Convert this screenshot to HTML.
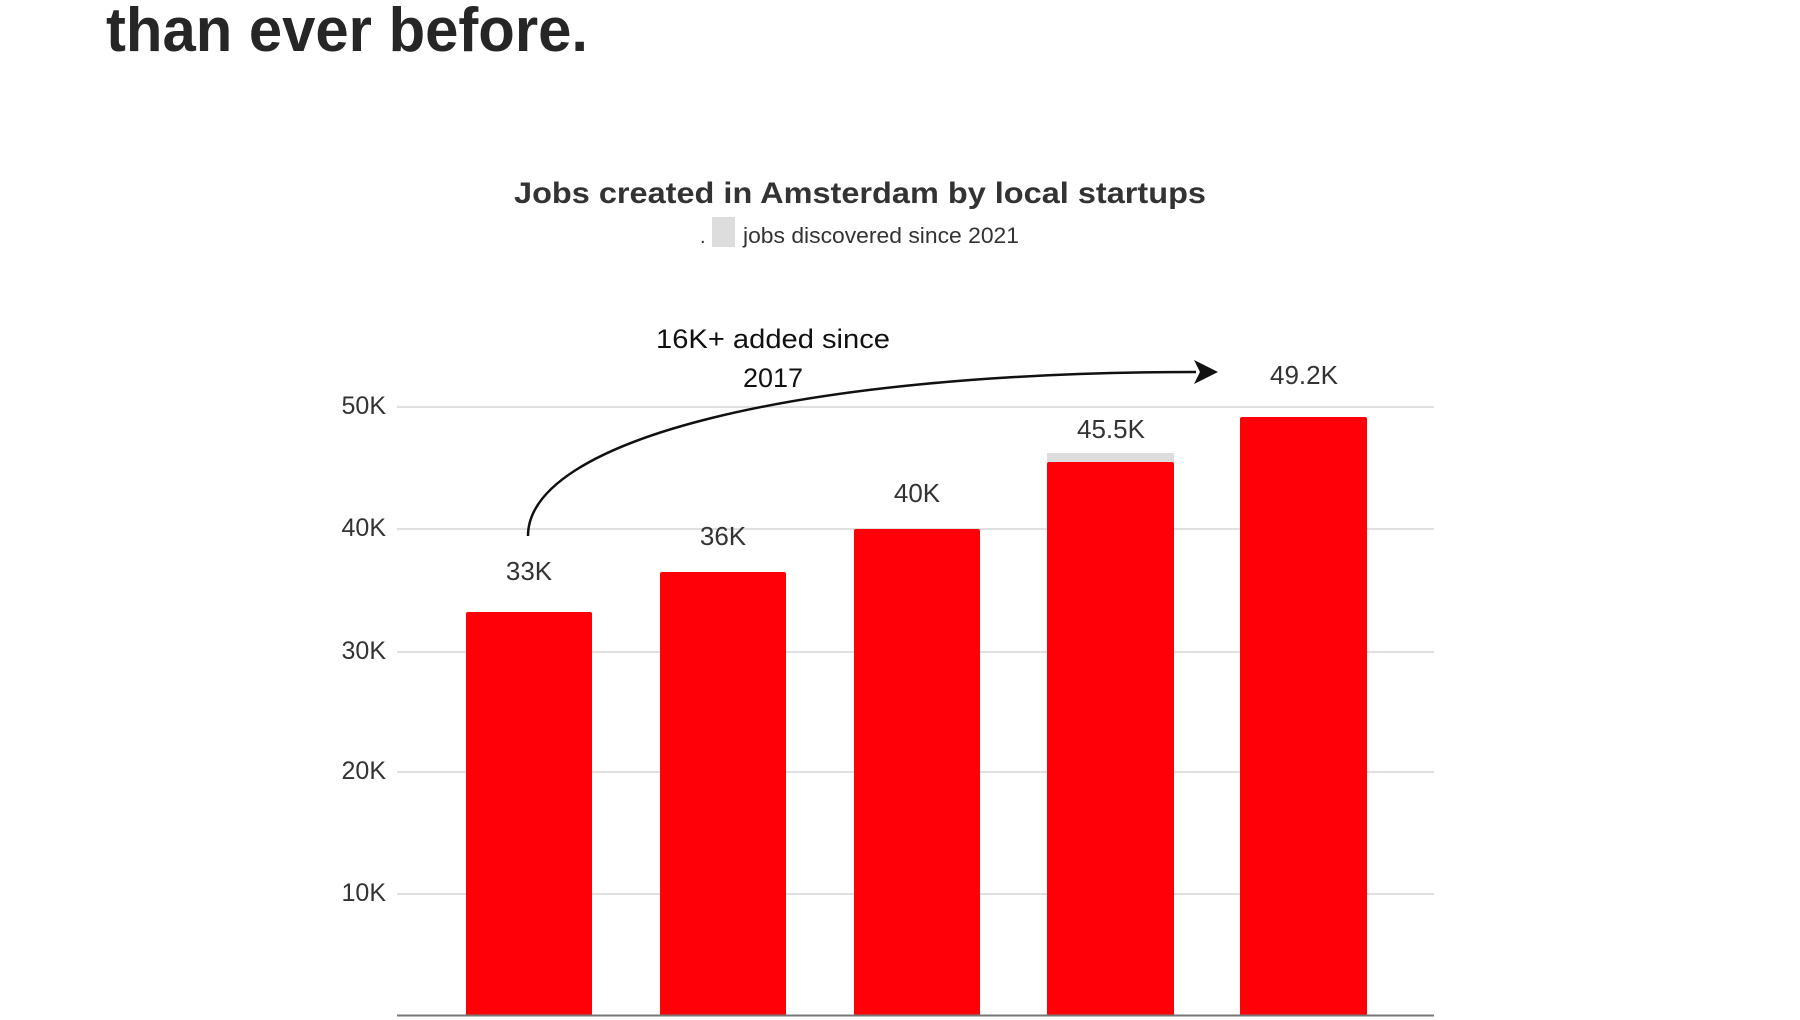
<!DOCTYPE html>
<html><head><meta charset="utf-8"><style>
html,body{margin:0;padding:0;background:#fff;width:1800px;height:1020px;overflow:hidden}
svg{display:block}
text{font-family:"Liberation Sans",sans-serif}
</style></head><body>
<svg width="1800" height="1020" viewBox="0 0 1800 1020" xmlns="http://www.w3.org/2000/svg">
<text x="106" y="51" font-size="62" font-weight="bold" fill="#262626" textLength="482" lengthAdjust="spacingAndGlyphs">than ever before.</text>
<text x="514" y="203" font-size="30" font-weight="bold" fill="#333" textLength="692" lengthAdjust="spacingAndGlyphs">Jobs created in Amsterdam by local startups</text>
<text x="700" y="243" font-size="20" fill="#333">.</text>
<rect x="712" y="217" width="23" height="30" fill="#ddd"/>
<text x="743" y="243" font-size="22" fill="#333" textLength="276" lengthAdjust="spacingAndGlyphs">jobs discovered since 2021</text>
<g stroke="#d6d6d6" stroke-width="1.5">
<line x1="397" y1="407" x2="1434" y2="407"/>
<line x1="397" y1="529" x2="1434" y2="529"/>
<line x1="397" y1="652" x2="1434" y2="652"/>
<line x1="397" y1="772" x2="1434" y2="772"/>
<line x1="397" y1="894" x2="1434" y2="894"/>
</g>
<g font-size="25" fill="#333" text-anchor="end">
<text x="386" y="414">50K</text>
<text x="386" y="536">40K</text>
<text x="386" y="659">30K</text>
<text x="386" y="779">20K</text>
<text x="386" y="901">10K</text>
</g>
<g fill="#ff0008">
<rect x="466" y="612" width="126" height="404" rx="2"/>
<rect x="660" y="572" width="126" height="444" rx="2"/>
<rect x="854" y="529" width="126" height="487" rx="2"/>
<rect x="1047" y="462" width="127" height="554" rx="2"/>
<rect x="1240" y="417" width="127" height="599" rx="2"/>
</g>
<rect x="1047" y="453" width="127" height="9" fill="#ddd"/>
<line x1="397" y1="1015.5" x2="1434" y2="1015.5" stroke="#777" stroke-width="2"/>
<g font-size="26" fill="#333" text-anchor="middle">
<text x="529" y="580">33K</text>
<text x="723" y="545">36K</text>
<text x="917" y="502">40K</text>
<text x="1111" y="438">45.5K</text>
<text x="1304" y="384">49.2K</text>
</g>
<g font-size="27" fill="#111">
<text x="656" y="348" textLength="234" lengthAdjust="spacingAndGlyphs">16K+ added since</text>
<text x="773" y="387" text-anchor="middle">2017</text>
</g>
<path d="M528,536 C528,440 795,372 1196,372" fill="none" stroke="#111" stroke-width="2.5"/>
<path d="M1218,372 L1194,360 L1200,372 L1194,384 Z" fill="#111"/>
</svg>
</body></html>
